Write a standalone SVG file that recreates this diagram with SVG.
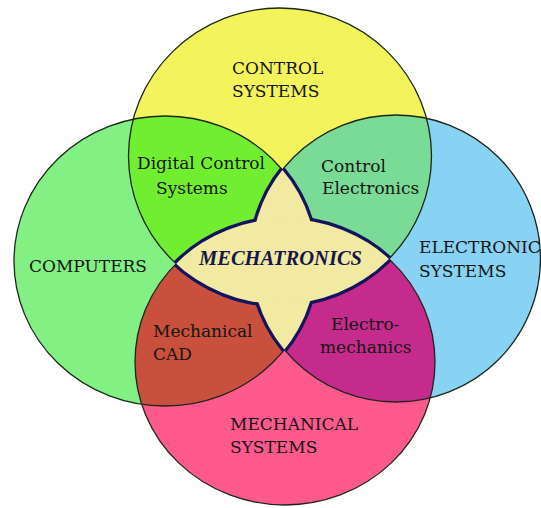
<svg xmlns="http://www.w3.org/2000/svg" xmlns:xlink="http://www.w3.org/1999/xlink" width="541" height="508" viewBox="0 0 541 508">
  <style>
    .lbl { font-family: "DejaVu Serif", "Liberation Serif", serif; font-size: 17px; fill: #151515; }
    .core { font-family: "Liberation Serif", "Times New Roman", serif; font-size: 20.5px; font-weight: bold; font-style: italic; fill: #16164a; }
    .edge { fill: none; stroke: #1c261c; stroke-width: 1.3; }
    .rim { fill: none; stroke: #14145e; stroke-width: 6.5; }
    .heart { fill: #f2e9a2; stroke: none; }
  </style>
  <defs>
    <!-- the four discipline fields -->
    <ellipse id="eT" cx="280" cy="156" rx="151.5" ry="148"/>
    <ellipse id="eL" cx="165" cy="261" rx="151" ry="145"/>
    <ellipse id="eR" cx="396" cy="258.5" rx="144.5" ry="143.5"/>
    <ellipse id="eB" cx="285" cy="362" rx="150" ry="143"/>
    <clipPath id="cT"><ellipse cx="280" cy="156" rx="151.5" ry="148"/></clipPath>
    <clipPath id="cL"><ellipse cx="165" cy="261" rx="151" ry="145"/></clipPath>
    <clipPath id="cR"><ellipse cx="396" cy="258.5" rx="144.5" ry="143.5"/></clipPath>
    <clipPath id="cB"><ellipse cx="285" cy="362" rx="150" ry="143"/></clipPath>
  </defs>

  <rect width="541" height="508" fill="#ffffff"/>

  <!-- base fields -->
  <g id="fields">
    <use id="control-systems" href="#eT" xlink:href="#eT" fill="#f3f45c"/>
    <use id="computers" href="#eL" xlink:href="#eL" fill="#82f082"/>
    <use id="electronic-systems" href="#eR" xlink:href="#eR" fill="#88d3f3"/>
    <use id="mechanical-systems" href="#eB" xlink:href="#eB" fill="#ff5a8e"/>
  </g>

  <!-- pairwise overlaps -->
  <g id="overlaps">
    <g id="digital-control-systems" clip-path="url(#cT)"><use href="#eL" xlink:href="#eL" fill="#72ee30"/></g>
    <g id="control-electronics" clip-path="url(#cT)"><use href="#eR" xlink:href="#eR" fill="#7adb96"/></g>
    <g id="mechanical-cad" clip-path="url(#cL)"><use href="#eB" xlink:href="#eB" fill="#c8503c"/></g>
    <g id="electromechanics" clip-path="url(#cR)"><use href="#eB" xlink:href="#eB" fill="#c42b8c"/></g>
  </g>

  <!-- field outlines -->
  <g id="outlines">
    <use href="#eT" xlink:href="#eT" class="edge"/>
    <use href="#eL" xlink:href="#eL" class="edge"/>
    <use href="#eR" xlink:href="#eR" class="edge"/>
    <use href="#eB" xlink:href="#eB" class="edge"/>
  </g>

  <!-- central star: union of the two opposite lenses, rimmed in navy -->
  <g id="mechatronics">
    <g clip-path="url(#cL)"><use href="#eR" xlink:href="#eR" class="rim"/></g>
    <g clip-path="url(#cR)"><use href="#eL" xlink:href="#eL" class="rim"/></g>
    <g clip-path="url(#cT)"><use href="#eB" xlink:href="#eB" class="rim"/></g>
    <g clip-path="url(#cB)"><use href="#eT" xlink:href="#eT" class="rim"/></g>
    <g clip-path="url(#cL)"><use href="#eR" xlink:href="#eR" class="heart"/></g>
    <g clip-path="url(#cT)"><use href="#eB" xlink:href="#eB" class="heart"/></g>
    <text class="core" x="280.5" y="265" text-anchor="middle">MECHATRONICS</text>
  </g>

  <!-- labels -->
  <g id="labels">
    <text class="lbl" x="232" y="74">CONTROL</text>
    <text class="lbl" x="232" y="97">SYSTEMS</text>
    <text class="lbl" x="29" y="272">COMPUTERS</text>
    <text class="lbl" x="419" y="253">ELECTRONIC</text>
    <text class="lbl" x="419" y="277">SYSTEMS</text>
    <text class="lbl" x="230" y="430">MECHANICAL</text>
    <text class="lbl" x="230" y="453">SYSTEMS</text>
    <text class="lbl" x="137" y="169">Digital Control</text>
    <text class="lbl" x="156" y="194">Systems</text>
    <text class="lbl" x="321" y="172">Control</text>
    <text class="lbl" x="322" y="194">Electronics</text>
    <text class="lbl" x="153" y="337">Mechanical</text>
    <text class="lbl" x="153" y="360">CAD</text>
    <text class="lbl" x="331" y="330">Electro-</text>
    <text class="lbl" x="320" y="353">mechanics</text>
  </g>
</svg>
